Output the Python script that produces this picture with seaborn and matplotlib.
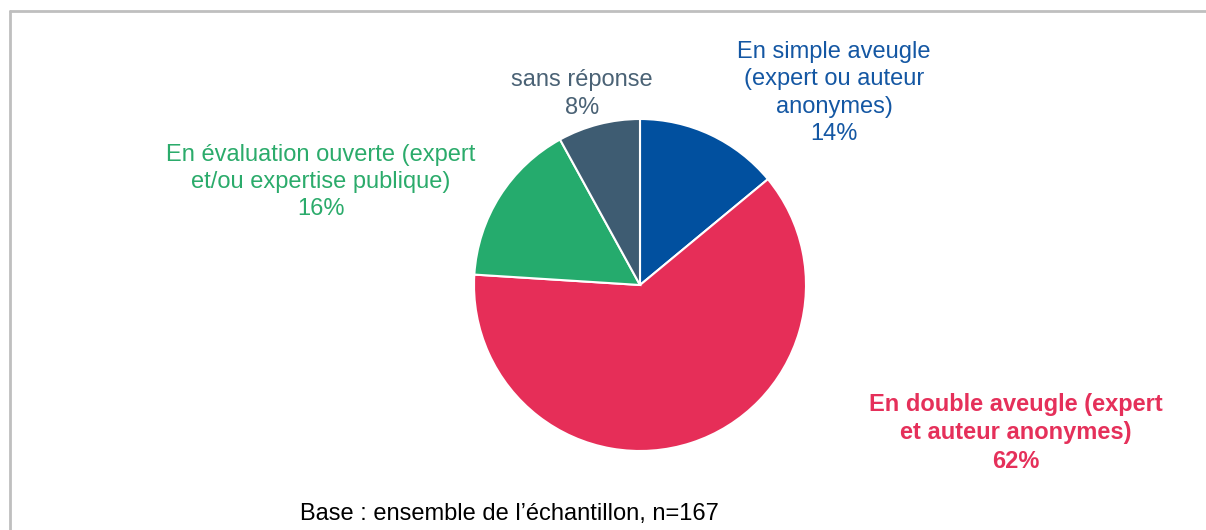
import matplotlib
matplotlib.use("Agg")
import matplotlib.pyplot as plt
import seaborn as sns
from matplotlib.lines import Line2D

# Données
categories = [
    "En simple aveugle\n(expert ou auteur\nanonymes)",
    "En double aveugle (expert\net auteur anonymes)",
    "En évaluation ouverte (expert\net/ou expertise publique)",
    "sans réponse",
]
valeurs = [14, 62, 16, 8]
couleurs = ["#01509F", "#E62E58", "#25AB6D", "#3E5C72"]
couleurs_texte = ["#1457A3", "#E5305A", "#2BAB6B", "#4A6275"]
note = "Base : ensemble de l\u2019échantillon, n=167"

sns.set_theme(style="white")
plt.rcParams['font.family'] = ['Liberation Sans', 'DejaVu Sans']

W, H = 1206, 530
fig = plt.figure(figsize=(W / 100, H / 100), dpi=100)
ax = fig.add_axes([0, 0, 1, 1])

ax.pie(valeurs, colors=couleurs, startangle=90, counterclock=False,
       center=(640, H - 285), radius=166,
       wedgeprops=dict(edgecolor="white", linewidth=1.5))
ax.set_xlim(0, W)
ax.set_ylim(0, H)
ax.set_aspect("equal")
ax.axis("off")

# Étiquettes (position en pixels de l'image)
positions = [(834, 93), (1016, 433), (321, 182), (582, 94)]
poids = ["normal", "bold", "normal", "normal"]
for cat, val, (px, py), c, w in zip(categories, valeurs, positions, couleurs_texte, poids):
    ax.text(px, H - py, f"{cat}\n{val}%", ha="center", va="center",
            color=c, fontsize=17, fontweight=w, linespacing=1.3)

ax.text(300, H - 514, note, ha="left", va="center", color="black", fontsize=17)

# Cadre gris (haut et gauche)
fig.add_artist(Line2D([10 / W, 1], [1 - 11 / H, 1 - 11 / H], color="#BFBFBF", lw=2,
                      transform=fig.transFigure))
fig.add_artist(Line2D([10 / W, 10 / W], [0, 1 - 11 / H], color="#BFBFBF", lw=2,
                      transform=fig.transFigure))

fig.savefig("out.png", dpi=100)
